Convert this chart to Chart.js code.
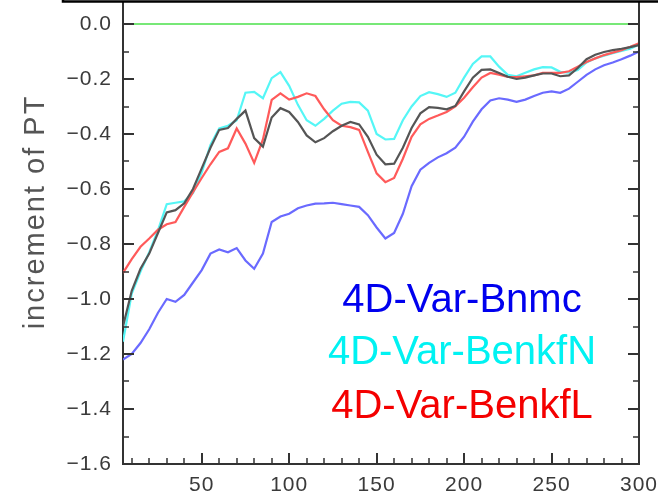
<!DOCTYPE html>
<html lang="en">
<head>
<meta charset="UTF-8">
<title>increment of PT</title>
<script src="https://cdn.jsdelivr.net/npm/chart.js"></script>
<style>
  html, body { margin: 0; padding: 0; background: #fff; overflow: hidden; }
  /* plot top sits above the window, under the box edge */
  #wrap { position: absolute; left: 0; top: -61px; width: 658px; height: 555px; }
</style>
</head>
<body>
<div id="wrap"><canvas id="ptChart" width="658" height="555"></canvas></div>
<script>
// forecast step
const steps = [5, 10, 15, 20, 25, 30, 35, 40, 45, 50,
  55, 60, 65, 70, 75, 80, 85, 90, 95, 100,
  105, 110, 115, 120, 125, 130, 135, 140, 145, 150,
  155, 160, 165, 170, 175, 180, 185, 190, 195, 200,
  205, 210, 215, 220, 225, 230, 235, 240, 245, 250,
  255, 260, 265, 270, 275, 280, 285, 290, 295, 300];

const bnmc = [-1.22, -1.20, -1.16, -1.11, -1.05, -1.00, -1.01, -0.985, -0.94, -0.895,
  -0.835, -0.82, -0.83, -0.815, -0.86, -0.89, -0.835, -0.72, -0.70, -0.69,
  -0.67, -0.66, -0.653, -0.652, -0.65, -0.655, -0.66, -0.665, -0.695, -0.74,
  -0.78, -0.76, -0.69, -0.59, -0.53, -0.505, -0.485, -0.47, -0.45, -0.41,
  -0.355, -0.31, -0.278, -0.27, -0.275, -0.283, -0.275, -0.262, -0.25, -0.245,
  -0.25, -0.235, -0.21, -0.185, -0.165, -0.15, -0.14, -0.128, -0.115, -0.10];

const benkfN = [-1.155, -0.98, -0.90, -0.83, -0.75, -0.655, -0.65, -0.645, -0.615, -0.54,
  -0.44, -0.38, -0.37, -0.35, -0.25, -0.247, -0.27, -0.197, -0.175, -0.225,
  -0.294, -0.35, -0.37, -0.345, -0.315, -0.29, -0.283, -0.285, -0.315, -0.40,
  -0.42, -0.418, -0.35, -0.30, -0.262, -0.248, -0.255, -0.265, -0.25, -0.195,
  -0.145, -0.118, -0.118, -0.155, -0.185, -0.19, -0.177, -0.165, -0.157, -0.158,
  -0.174, -0.177, -0.167, -0.14, -0.125, -0.115, -0.106, -0.098, -0.09, -0.075];

const benkfL = [-0.905, -0.855, -0.81, -0.78, -0.748, -0.728, -0.72, -0.665, -0.612, -0.56,
  -0.51, -0.465, -0.452, -0.38, -0.435, -0.505, -0.42, -0.276, -0.252, -0.275,
  -0.265, -0.252, -0.262, -0.31, -0.35, -0.37, -0.375, -0.385, -0.465, -0.543,
  -0.575, -0.56, -0.49, -0.41, -0.365, -0.345, -0.333, -0.32, -0.30, -0.268,
  -0.23, -0.195, -0.178, -0.184, -0.192, -0.193, -0.19, -0.187, -0.178, -0.178,
  -0.178, -0.172, -0.155, -0.138, -0.125, -0.113, -0.104, -0.095, -0.083, -0.07];

// unlabelled black run
const ctrl = [-1.10, -0.97, -0.89, -0.835, -0.76, -0.685, -0.677, -0.652, -0.60, -0.525,
  -0.45, -0.385, -0.378, -0.345, -0.315, -0.415, -0.446, -0.34, -0.306, -0.32,
  -0.356, -0.405, -0.43, -0.415, -0.39, -0.37, -0.356, -0.365, -0.41, -0.475,
  -0.51, -0.508, -0.45, -0.378, -0.325, -0.302, -0.305, -0.31, -0.298, -0.245,
  -0.195, -0.167, -0.165, -0.178, -0.192, -0.2, -0.195, -0.187, -0.18, -0.18,
  -0.19, -0.187, -0.16, -0.128, -0.112, -0.102, -0.095, -0.09, -0.084, -0.077];

const zeroX = [5, 300];
const zeroY = [0, 0];

const labels = ['4D-Var-Bnmc', '4D-Var-BenkfN', '4D-Var-BenkfL'];
const labelColors = ['#0000ee', '#00f2f2', '#f40000'];
const yTitle = 'increment of PT';

const TOP = 61;   // canvas rows above the window

function pts(xs, ys) {
  return xs.map((x, i) => ({ x: x, y: ys[i] }));
}

function yLabel(v) {
  const k = Math.round(v * 10);
  if (k % 2 !== 0) return '';
  const s = Math.abs(k / 10).toFixed(1);
  return k < 0 ? '\u2212' + s : s;
}

// tick marks, right axis, title, text legend and the box edge on top
const decor = {
  id: 'decor',
  beforeDraw(chart) {
    chart.ctx.letterSpacing = '1px';
  },
  afterDraw(chart) {
    const { ctx, chartArea: a, scales: { x, y } } = chart;
    ctx.save();
    ctx.strokeStyle = '#333';
    ctx.lineWidth = 2;
    ctx.beginPath();
    ctx.moveTo(a.right, a.top);
    ctx.lineTo(a.right, a.bottom + 1);
    ctx.stroke();

    y.ticks.forEach(t => {
      const py = Math.round(y.getPixelForValue(t.value));
      const len = Math.round(t.value * 10) % 2 === 0 ? 11 : 6;
      ctx.lineWidth = len > 6 ? 2 : 1.5;
      ctx.beginPath();
      ctx.moveTo(a.left, py); ctx.lineTo(a.left + len, py);
      ctx.moveTo(a.right, py); ctx.lineTo(a.right - len, py);
      ctx.stroke();
    });
    x.ticks.forEach(t => {
      const px = Math.round(x.getPixelForValue(t.value));
      const len = t.value % 50 === 0 ? 11 : 6;
      ctx.lineWidth = len > 6 ? 2 : 1.5;
      ctx.beginPath();
      ctx.moveTo(px, a.bottom); ctx.lineTo(px, a.bottom - len);
      ctx.stroke();
    });

    ctx.letterSpacing = '2px';
    ctx.font = '29px "Liberation Sans"';
    ctx.fillStyle = '#555';
    ctx.textAlign = 'center';
    ctx.textBaseline = 'middle';
    ctx.save();
    ctx.translate(36, TOP + 212);
    ctx.rotate(-Math.PI / 2);
    ctx.fillText(yTitle, 0, 0);
    ctx.restore();

    ctx.letterSpacing = '0px';
    ctx.font = '40px "Liberation Sans"';
    ctx.textBaseline = 'alphabetic';
    const baselines = [312, 364, 418];
    labels.forEach((s, i) => {
      ctx.fillStyle = labelColors[i];
      ctx.fillText(s, 462, TOP + baselines[i]);
    });

    ctx.fillStyle = '#fff';
    ctx.fillRect(62, 0, 700, TOP + 1);
    ctx.strokeStyle = '#000';
    ctx.lineWidth = 2.5;
    ctx.strokeRect(63, -10, 700, TOP + 11.5);
    ctx.restore();
  }
};

const ctx = document.getElementById('ptChart').getContext('2d');
new Chart(ctx, {
  type: 'line',
  data: {
    datasets: [
      { data: pts(steps, ctrl), borderColor: '#555555' },
      { data: pts(steps, benkfL), borderColor: '#ff5a5a' },
      { data: pts(steps, benkfN), borderColor: '#55f6f6' },
      { data: pts(steps, bnmc), borderColor: '#6a6aff' },
      { data: pts(zeroX, zeroY), borderColor: '#77e877' }
    ].map(d => Object.assign(d, { borderWidth: 2.2, pointRadius: 0, tension: 0, fill: false }))
  },
  options: {
    responsive: false,
    animation: false,
    layout: { padding: { top: 30, right: 19, left: 0, bottom: 0 } },
    plugins: { legend: { display: false }, tooltip: { enabled: false } },
    scales: {
      x: {
        type: 'linear', min: 5, max: 300,
        afterFit(s) { s.height = 30; },
        grid: { display: false, drawTicks: false },
        border: { display: true, color: '#333', width: 2 },
        ticks: {
          stepSize: 10, includeBounds: false, autoSkip: false, maxRotation: 0,
          padding: 0, color: '#3a3a3a',
          font: { family: 'Liberation Sans', size: 21, lineHeight: 2.05 },
          callback: v => (v % 50 === 0 ? String(v) : '')
        }
      },
      y: {
        type: 'linear', min: -1.6, max: 0.2,
        afterFit(s) { s.width = 123; },
        grid: { display: false, drawTicks: false },
        border: { display: true, color: '#333', width: 2 },
        ticks: {
          stepSize: 0.1, includeBounds: false, autoSkip: false,
          padding: 11, color: '#3a3a3a',
          font: { family: 'Liberation Sans', size: 21 },
          callback: v => yLabel(v)
        }
      }
    }
  },
  plugins: [decor]
});
</script>
</body>
</html>
